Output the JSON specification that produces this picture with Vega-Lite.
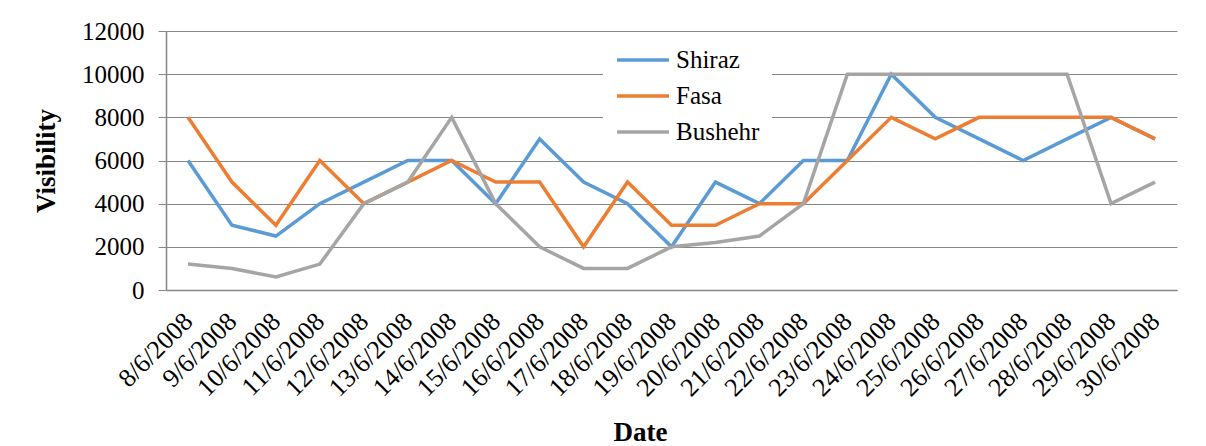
{
  "$schema": "https://vega.github.io/schema/vega-lite/v6.json",
  "autosize": "none",
  "width": 1011,
  "height": 259,
  "padding": {"left": 166, "top": 31, "right": 29, "bottom": 156},
  "background": "white",
  "config": {
    "font": "Liberation Serif, Times New Roman, serif",
    "view": {"stroke": null},
    "axis": {"labelFont": "Liberation Serif, Times New Roman, serif", "titleFont": "Liberation Serif, Times New Roman, serif", "labelColor": "black", "titleColor": "black"},
    "legend": {"labelFont": "Liberation Serif, Times New Roman, serif"}
  },
  "data": {
    "values": [
      {"date": "8/6/2008", "Shiraz": 6000, "Fasa": 8000, "Bushehr": 1200},
      {"date": "9/6/2008", "Shiraz": 3000, "Fasa": 5000, "Bushehr": 1000},
      {"date": "10/6/2008", "Shiraz": 2500, "Fasa": 3000, "Bushehr": 600},
      {"date": "11/6/2008", "Shiraz": 4000, "Fasa": 6000, "Bushehr": 1200},
      {"date": "12/6/2008", "Shiraz": 5000, "Fasa": 4000, "Bushehr": 4000},
      {"date": "13/6/2008", "Shiraz": 6000, "Fasa": 5000, "Bushehr": 5000},
      {"date": "14/6/2008", "Shiraz": 6000, "Fasa": 6000, "Bushehr": 8000},
      {"date": "15/6/2008", "Shiraz": 4000, "Fasa": 5000, "Bushehr": 4000},
      {"date": "16/6/2008", "Shiraz": 7000, "Fasa": 5000, "Bushehr": 2000},
      {"date": "17/6/2008", "Shiraz": 5000, "Fasa": 2000, "Bushehr": 1000},
      {"date": "18/6/2008", "Shiraz": 4000, "Fasa": 5000, "Bushehr": 1000},
      {"date": "19/6/2008", "Shiraz": 2000, "Fasa": 3000, "Bushehr": 2000},
      {"date": "20/6/2008", "Shiraz": 5000, "Fasa": 3000, "Bushehr": 2200},
      {"date": "21/6/2008", "Shiraz": 4000, "Fasa": 4000, "Bushehr": 2500},
      {"date": "22/6/2008", "Shiraz": 6000, "Fasa": 4000, "Bushehr": 4000},
      {"date": "23/6/2008", "Shiraz": 6000, "Fasa": 6000, "Bushehr": 10000},
      {"date": "24/6/2008", "Shiraz": 10000, "Fasa": 8000, "Bushehr": 10000},
      {"date": "25/6/2008", "Shiraz": 8000, "Fasa": 7000, "Bushehr": 10000},
      {"date": "26/6/2008", "Shiraz": 7000, "Fasa": 8000, "Bushehr": 10000},
      {"date": "27/6/2008", "Shiraz": 6000, "Fasa": 8000, "Bushehr": 10000},
      {"date": "28/6/2008", "Shiraz": 7000, "Fasa": 8000, "Bushehr": 10000},
      {"date": "29/6/2008", "Shiraz": 8000, "Fasa": 8000, "Bushehr": 4000},
      {"date": "30/6/2008", "Shiraz": 7000, "Fasa": 7000, "Bushehr": 5000}
    ]
  },
  "transform": [{"fold": ["Shiraz", "Fasa", "Bushehr"], "as": ["city", "visibility"]}],
  "encoding": {
    "x": {
      "field": "date", "type": "ordinal", "sort": null,
      "scale": {"type": "point", "padding": 0.5},
      "axis": {
        "title": "Date", "titleFontSize": 27, "titleFontWeight": "bold",
        "titleX": 474, "titleY": 150, "titleBaseline": "alphabetic",
        "labelAngle": -45, "labelAlign": "right", "labelBaseline": "middle",
        "labelFontSize": 26, "labelPadding": 27, "ticks": false,
        "domainColor": "#868686", "domainWidth": 1.5, "grid": false, "labelOverlap": false
      }
    },
    "y": {
      "field": "visibility", "type": "quantitative",
      "scale": {"domain": [0, 12000], "nice": false},
      "axis": {
        "title": "Visibility", "titleFontSize": 27, "titleFontWeight": "bold",
        "titleX": -106, "titlePadding": 0, "format": "d",
        "values": [0, 2000, 4000, 6000, 8000, 10000, 12000],
        "labelFontSize": 25, "labelPadding": 14, "tickSize": 8,
        "tickColor": "#868686", "domainColor": "#868686", "domainWidth": 1.5,
        "gridColor": "#868686", "gridWidth": 1.2, "grid": true
      }
    },
    "color": {
      "field": "city", "type": "nominal",
      "scale": {"domain": ["Shiraz", "Fasa", "Bushehr"], "range": ["#5B9BD5", "#ED7D31", "#A5A5A5"]},
      "legend": {
        "title": null, "orient": "none", "legendX": 437, "legendY": 2,
        "fillColor": "white", "padding": 12,
        "symbolType": "M-1,0H3", "symbolSize": 676, "symbolStrokeWidth": 3.5,
        "labelFont": "Liberation Serif, Times New Roman, serif",
        "labelFontSize": 25, "labelColor": "black", "rowPadding": 8, "labelOffset": 31
      }
    }
  },
  "layer": [
    {"transform": [{"filter": "datum.city === 'Shiraz'"}], "mark": {"type": "line", "strokeWidth": 3.5}},
    {"transform": [{"filter": "datum.city === 'Fasa'"}], "mark": {"type": "line", "strokeWidth": 3.5}},
    {"transform": [{"filter": "datum.city === 'Bushehr'"}], "mark": {"type": "line", "strokeWidth": 3.5}}
  ]
}
